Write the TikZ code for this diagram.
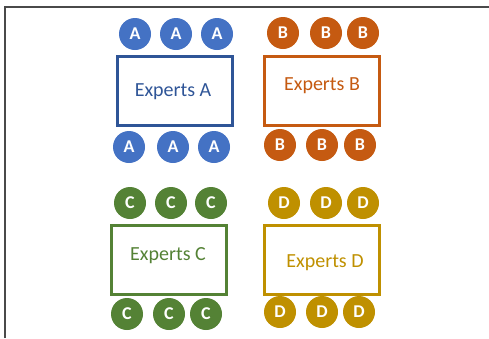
\documentclass[tikz,border=0pt]{standalone}
\usepackage{fontspec}
\setmainfont{Carlito}
\usepackage{xcolor}
\usetikzlibrary{shapes}

\definecolor{grpA}{HTML}{4472C4}
\definecolor{grpAdark}{HTML}{2F5597}
\definecolor{grpB}{HTML}{C55A11}
\definecolor{grpC}{HTML}{548235}
\definecolor{grpD}{HTML}{BF9000}
\definecolor{framegray}{HTML}{4A4A4A}

\tikzset{
  seat/.style={circle, fill=#1, minimum size=32pt, inner sep=0pt, text=white, font=\fontsize{18}{18}\selectfont\bfseries},
  expbox/.style={draw=#1, line width=3pt, minimum width=115pt, minimum height=69pt, inner sep=0pt},
  explabel/.style={text=#1, inner sep=0.75pt, font=\fontsize{20}{20}\selectfont}
}

\begin{document}
\begin{tikzpicture}[x=1pt,y=1pt,yscale=-1,xscale=1]
        \useasboundingbox (0,0) rectangle (489,338);
        % frame
        \draw [framegray, line width=2pt] (4.5,338) -- (4.5,6.5) -- (489,6.5);

        % experts A
        \draw (174.5,90.5) node [expbox=grpAdark] (boxA) {};
        \draw (173,92) node [explabel=grpAdark] (expA) {Experts A};
        \draw (135,34) node [seat=grpA] (a1) {A};
        \draw (176,34) node [seat=grpA] (a2) {A};
        \draw (217,34) node [seat=grpA] (a3) {A};
        \draw (129,147) node [seat=grpA] (a4) {A};
        \draw (173,147) node [seat=grpA] (a5) {A};
        \draw (214,147) node [seat=grpA] (a6) {A};

        % experts B
        \draw (321.5,90.5) node [expbox=grpB] (boxB) {};
        \draw (322,86) node [explabel=grpB] (expB) {Experts B};
        \draw (283,33) node [seat=grpB] (b1) {B};
        \draw (326,33) node [seat=grpB] (b2) {B};
        \draw (363,33) node [seat=grpB] (b3) {B};
        \draw (280,145) node [seat=grpB] (b4) {B};
        \draw (322,145) node [seat=grpB] (b5) {B};
        \draw (360,145) node [seat=grpB] (b6) {B};

        % experts C
        \draw (169,259.5) node [expbox=grpC] (boxC) {};
        \draw (168,256) node [explabel=grpC] (expC) {Experts C};
        \draw (130,203) node [seat=grpC] (c1) {C};
        \draw (171,203) node [seat=grpC] (c2) {C};
        \draw (211,203) node [seat=grpC] (c3) {C};
        \draw (127,314) node [seat=grpC] (c4) {C};
        \draw (169,314) node [seat=grpC] (c5) {C};
        \draw (206,314) node [seat=grpC] (c6) {C};

        % experts D
        \draw (321.5,259.5) node [expbox=grpD] (boxD) {};
        \draw (325,263) node [explabel=grpD] (expD) {Experts D};
        \draw (284,203) node [seat=grpD] (d1) {D};
        \draw (326,203) node [seat=grpD] (d2) {D};
        \draw (363,203) node [seat=grpD] (d3) {D};
        \draw (280,312) node [seat=grpD] (d4) {D};
        \draw (322,312) node [seat=grpD] (d5) {D};
        \draw (359,312) node [seat=grpD] (d6) {D};
\end{tikzpicture}
\end{document}
